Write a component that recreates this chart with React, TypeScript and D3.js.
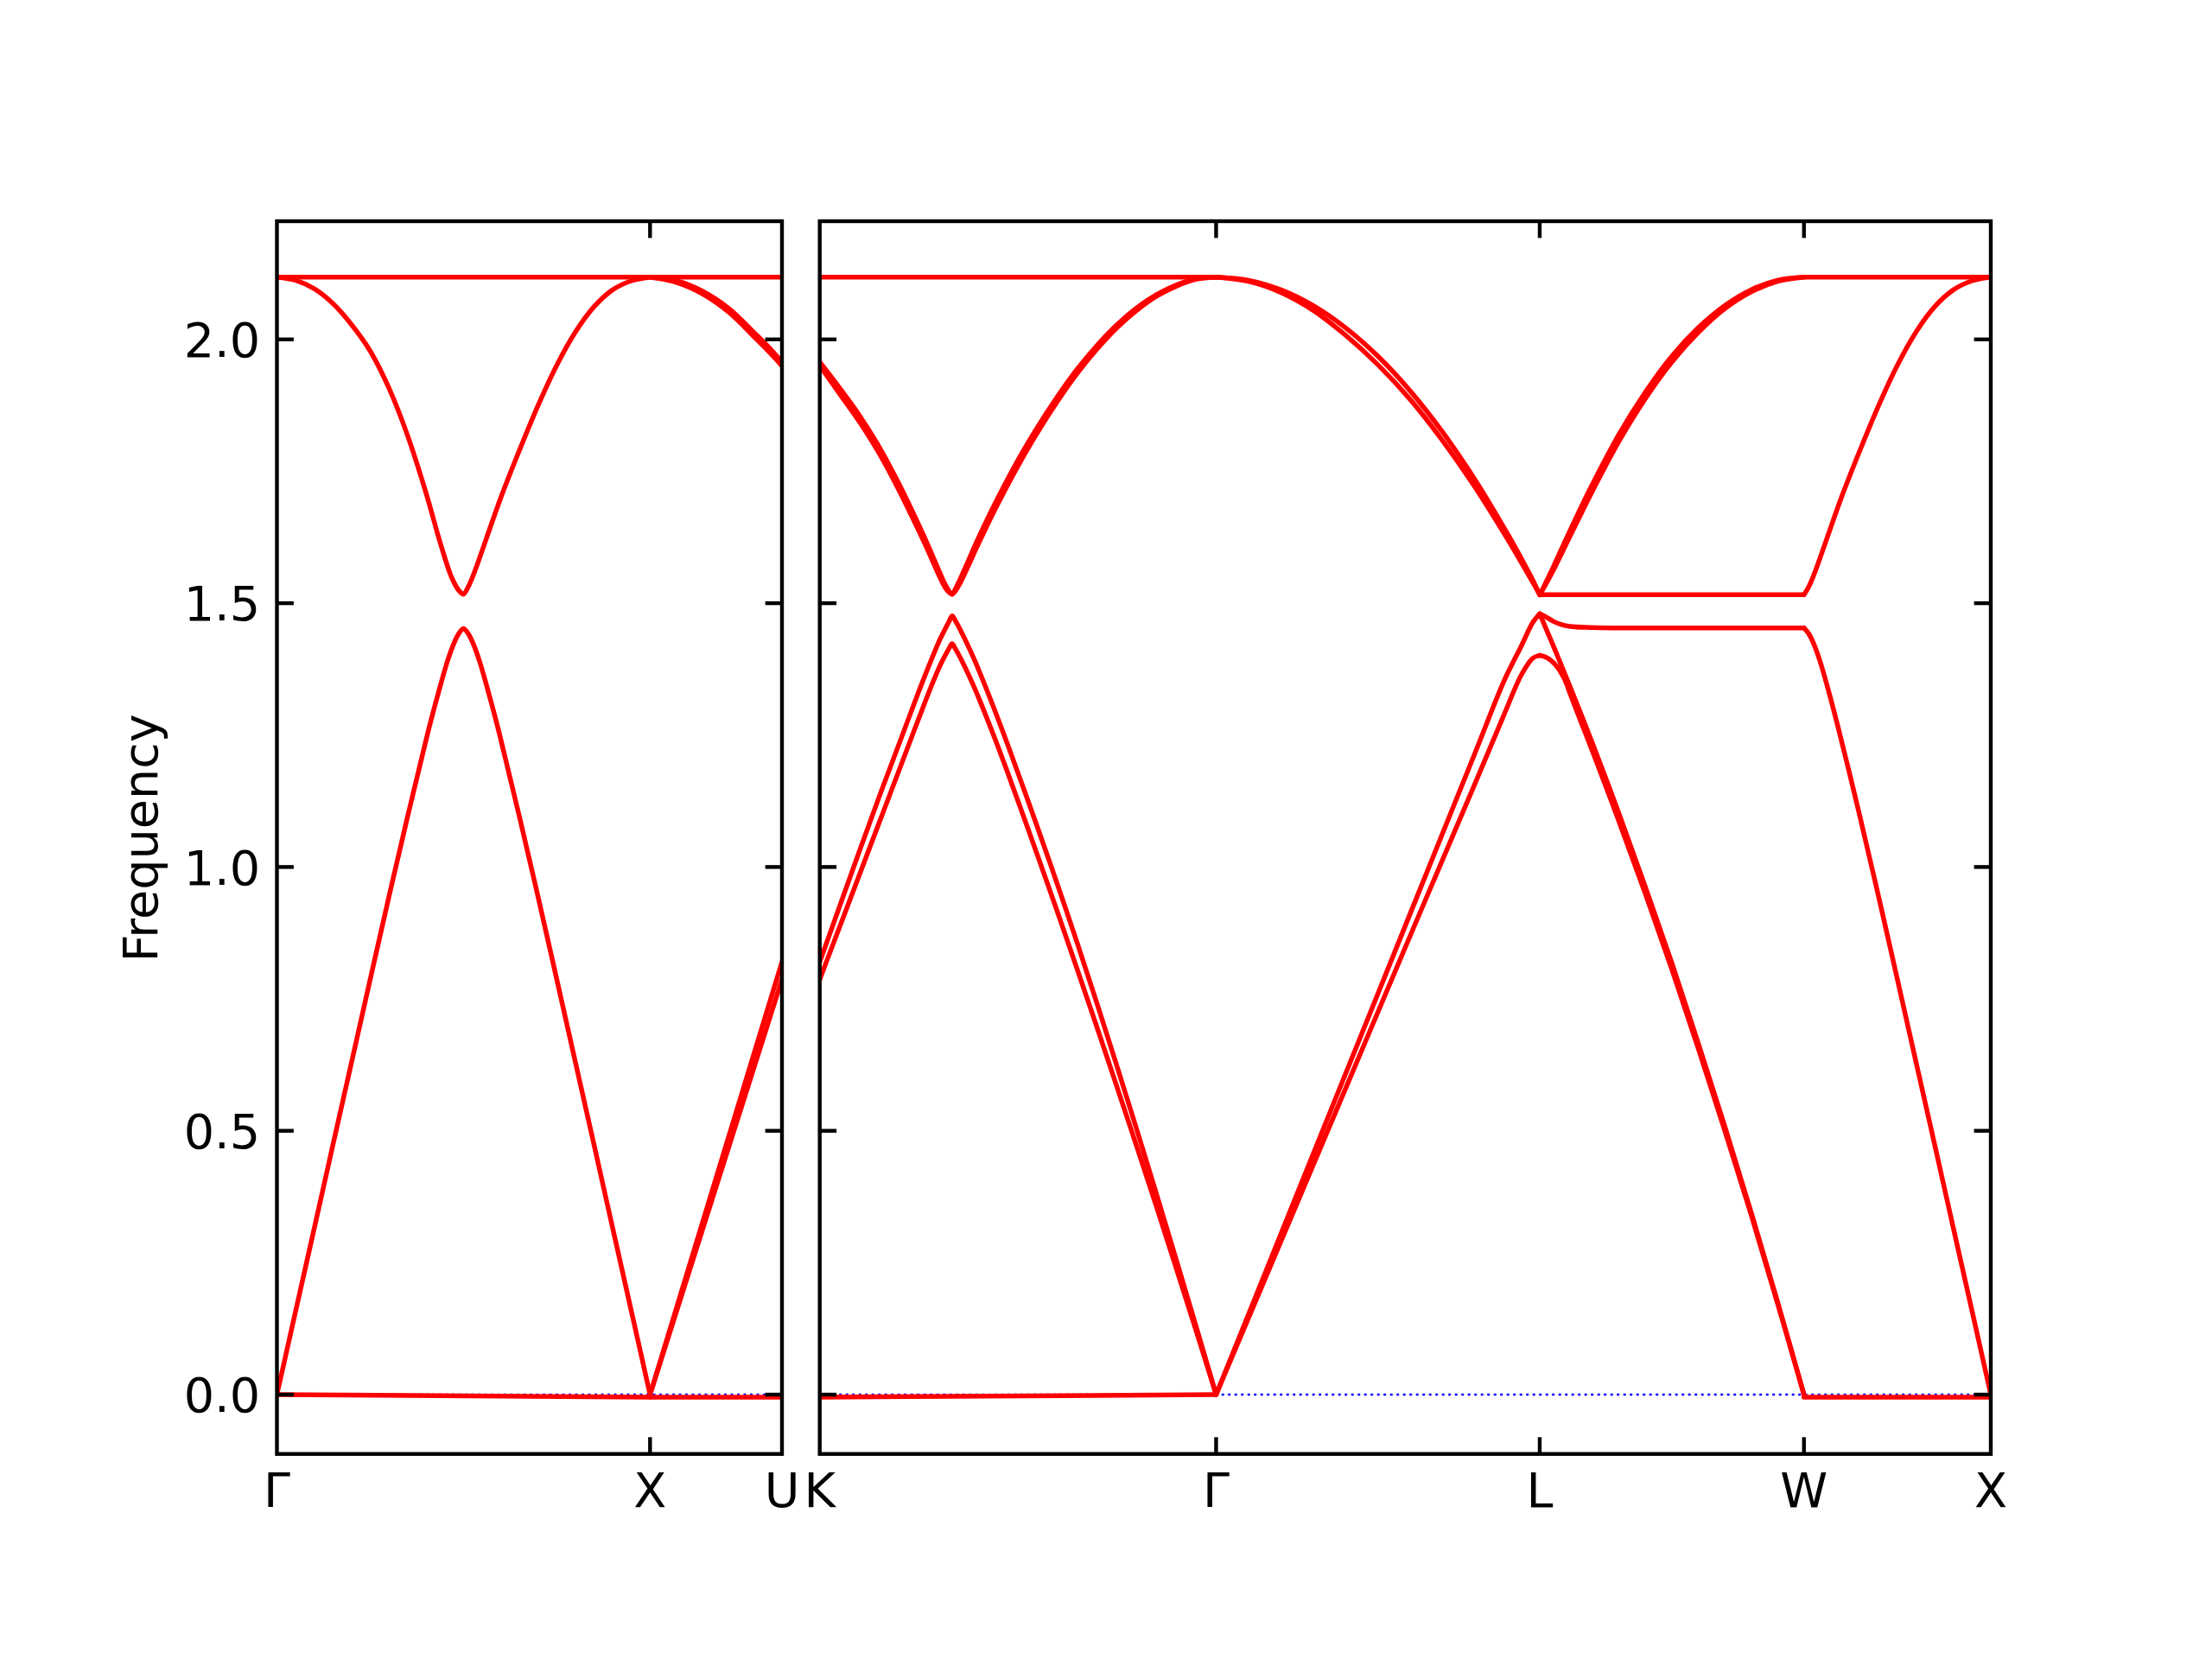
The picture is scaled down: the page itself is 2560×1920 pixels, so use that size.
import React from 'react';
import * as d3 from 'd3';

type Pt = [number, number];

// ---- axis data ----
const yTicks = [0, 0.5, 1.0, 1.5, 2.0];
const yDomain: [number, number] = [-0.1125, 2.224];
const panel1Labels = ['Γ', 'X', 'U'];
const panel1Lengths = [1.0, 0.3536];
const panel2Labels = ['K', 'Γ', 'L', 'W', 'X'];
const panel2Lengths = [1.0607, 0.866, 0.7071, 0.5];

// ---- bands: [fraction along segment, frequency] ----
// Γ–X
const gxTop: Pt[] = [[0, 2.118], [1, 2.118]];
const gxUpper: Pt[] = [[0, 2.118], [0.05, 2.112], [0.1, 2.096], [0.15, 2.068], [0.2, 2.028], [0.25, 1.978], [0.3, 1.908], [0.35, 1.818], [0.4, 1.708], [0.44, 1.609], [0.47, 1.546], [0.49, 1.522], [0.5, 1.517], [0.512, 1.53], [0.53, 1.56], [0.56, 1.62], [0.6, 1.7], [0.65, 1.79], [0.7, 1.875], [0.75, 1.951], [0.8, 2.014], [0.85, 2.062], [0.9, 2.094], [0.95, 2.111], [1, 2.118]];
const gxLower: Pt[] = [[0, 0], [0.05, 0.158], [0.1, 0.315], [0.15, 0.473], [0.2, 0.63], [0.25, 0.787], [0.3, 0.943], [0.35, 1.095], [0.38, 1.183], [0.41, 1.27], [0.435, 1.336], [0.457, 1.39], [0.475, 1.425], [0.488, 1.443], [0.5, 1.452], [0.512, 1.443], [0.525, 1.425], [0.543, 1.39], [0.565, 1.336], [0.59, 1.27], [0.62, 1.183], [0.65, 1.095], [0.7, 0.943], [0.75, 0.787], [0.8, 0.63], [0.85, 0.473], [0.9, 0.315], [0.95, 0.158], [1, 0]];
const gxZero: Pt[] = [[0, 0], [1, -0.005]];
// X–U
const xuTop: Pt[] = [[0, 2.118], [1, 2.118]];
const xuUpper1: Pt[] = [[0, 2.118], [0.2, 2.111], [0.4, 2.091], [0.6, 2.058], [0.8, 2.01], [0.9, 1.985], [1, 1.957]];
const xuUpper2: Pt[] = [[0, 2.118], [0.2, 2.108], [0.4, 2.086], [0.6, 2.051], [0.8, 2.002], [0.9, 1.977], [1, 1.95]];
const xuLower1: Pt[] = [[0, 0], [0.5, 0.41], [1, 0.82]];
const xuLower2: Pt[] = [[0, 0], [0.5, 0.393], [1, 0.787]];
const xuZero: Pt[] = [[0, -0.005], [1, -0.005]];
// K–Γ
const kgTop: Pt[] = [[0, 2.118], [1, 2.118]];
const kgUpper1: Pt[] = [[0, 1.957], [0.05, 1.908], [0.1, 1.856], [0.15, 1.796], [0.2, 1.726], [0.25, 1.648], [0.28, 1.598], [0.3, 1.563], [0.316, 1.536], [0.327, 1.522], [0.334, 1.517], [0.341, 1.522], [0.352, 1.535], [0.367, 1.558], [0.4, 1.612], [0.439, 1.673], [0.5, 1.76], [0.548, 1.822], [0.6, 1.883], [0.65, 1.936], [0.7, 1.982], [0.75, 2.022], [0.8, 2.055], [0.85, 2.082], [0.9, 2.101], [0.95, 2.114], [1, 2.118]];
const kgUpper2: Pt[] = [[0, 1.95], [0.05, 1.897], [0.1, 1.844], [0.15, 1.784], [0.2, 1.714], [0.25, 1.637], [0.28, 1.588], [0.3, 1.554], [0.316, 1.53], [0.327, 1.52], [0.334, 1.517], [0.341, 1.525], [0.352, 1.542], [0.367, 1.567], [0.4, 1.623], [0.439, 1.684], [0.5, 1.771], [0.548, 1.832], [0.6, 1.892], [0.65, 1.944], [0.7, 1.989], [0.75, 2.028], [0.8, 2.06], [0.85, 2.085], [0.9, 2.103], [0.95, 2.115], [1, 2.118]];
const kgLower1: Pt[] = [[0, 0.82], [0.05, 0.925], [0.1, 1.03], [0.15, 1.133], [0.2, 1.233], [0.25, 1.333], [0.28, 1.39], [0.3, 1.426], [0.315, 1.449], [0.326, 1.465], [0.334, 1.476], [0.342, 1.467], [0.355, 1.449], [0.38, 1.41], [0.403, 1.37], [0.44, 1.3], [0.476, 1.228], [0.548, 1.078], [0.6, 0.966], [0.65, 0.855], [0.7, 0.74], [0.75, 0.622], [0.8, 0.502], [0.85, 0.379], [0.9, 0.254], [0.95, 0.128], [1, 0]];
const kgLower2: Pt[] = [[0, 0.787], [0.05, 0.886], [0.1, 0.985], [0.15, 1.084], [0.2, 1.183], [0.25, 1.282], [0.28, 1.34], [0.3, 1.376], [0.315, 1.399], [0.326, 1.414], [0.334, 1.423], [0.342, 1.414], [0.355, 1.396], [0.38, 1.357], [0.403, 1.317], [0.44, 1.247], [0.476, 1.175], [0.548, 1.025], [0.6, 0.914], [0.65, 0.805], [0.7, 0.695], [0.75, 0.583], [0.8, 0.47], [0.85, 0.355], [0.9, 0.238], [0.95, 0.12], [1, 0]];
const kgZero: Pt[] = [[0, -0.005], [1, 0]];
// Γ–L
const glUpper1: Pt[] = [[0, 2.118], [0.1, 2.112], [0.2, 2.094], [0.3, 2.064], [0.4, 2.022], [0.5, 1.968], [0.6, 1.902], [0.7, 1.824], [0.8, 1.734], [0.9, 1.632], [0.95, 1.577], [0.98, 1.542], [1, 1.516]];
const glUpper2: Pt[] = [[0, 2.118], [0.1, 2.11], [0.2, 2.089], [0.3, 2.055], [0.4, 2.008], [0.5, 1.952], [0.6, 1.886], [0.7, 1.808], [0.8, 1.72], [0.9, 1.622], [0.95, 1.57], [0.98, 1.538], [1, 1.516]];
const glLower1: Pt[] = [[0, 0], [0.2, 0.304], [0.4, 0.608], [0.6, 0.912], [0.8, 1.216], [0.89, 1.353], [0.944, 1.42], [0.979, 1.464], [1, 1.48]];
const glLower2: Pt[] = [[0, 0], [0.2, 0.29], [0.4, 0.58], [0.6, 0.87], [0.8, 1.158], [0.89, 1.289], [0.944, 1.365], [0.979, 1.396], [1, 1.401]];
// L–W
const lwUpper1: Pt[] = [[0, 1.516], [0.02, 1.536], [0.05, 1.567], [0.1, 1.622], [0.15, 1.675], [0.2, 1.726], [0.3, 1.82], [0.4, 1.9], [0.5, 1.968], [0.6, 2.022], [0.7, 2.064], [0.8, 2.094], [0.9, 2.112], [1, 2.118]];
const lwUpper2: Pt[] = [[0, 1.516], [0.02, 1.533], [0.05, 1.561], [0.1, 1.612], [0.15, 1.663], [0.2, 1.713], [0.3, 1.807], [0.4, 1.888], [0.5, 1.957], [0.6, 2.013], [0.7, 2.058], [0.8, 2.09], [0.9, 2.11], [1, 2.118]];
const lwFlatHigh: Pt[] = [[0, 1.516], [1, 1.516]];
const lwFlatLow: Pt[] = [[0, 1.48], [0.02, 1.475], [0.05, 1.466], [0.08, 1.46], [0.115, 1.456], [0.19, 1.454], [0.5, 1.453], [1, 1.453]];
const lwLower1: Pt[] = [[0, 1.48], [0.01, 1.468], [0.05, 1.421], [0.1, 1.36], [0.16, 1.285], [0.2, 1.234], [0.3, 1.101], [0.4, 0.962], [0.5, 0.818], [0.6, 0.666], [0.7, 0.509], [0.8, 0.346], [0.9, 0.176], [1, 0]];
const lwLower2: Pt[] = [[0, 1.401], [0.03, 1.396], [0.06, 1.383], [0.09, 1.36], [0.12, 1.322], [0.16, 1.27], [0.2, 1.219], [0.3, 1.086], [0.4, 0.949], [0.5, 0.806], [0.6, 0.656], [0.7, 0.501], [0.8, 0.341], [0.9, 0.173], [1, 0]];
// W–X
const wxTop: Pt[] = [[0, 2.118], [1, 2.118]];
const wxUpper: Pt[] = [[0, 1.516], [0.024, 1.53], [0.06, 1.56], [0.12, 1.62], [0.2, 1.7], [0.3, 1.79], [0.4, 1.875], [0.5, 1.951], [0.6, 2.014], [0.7, 2.062], [0.8, 2.094], [0.9, 2.111], [1, 2.118]];
const wxLower: Pt[] = [[0, 1.453], [0.024, 1.443], [0.05, 1.425], [0.086, 1.39], [0.13, 1.336], [0.179, 1.27], [0.24, 1.183], [0.3, 1.095], [0.4, 0.943], [0.5, 0.787], [0.6, 0.63], [0.7, 0.473], [0.8, 0.315], [0.9, 0.158], [1, 0]];
const wxZero: Pt[] = [[0, -0.005], [1, -0.005]];

const panel1Bands: Pt[][][] = [
  [gxTop, gxUpper, gxLower, gxZero],
  [xuTop, xuUpper1, xuUpper2, xuLower1, xuLower2, xuZero],
];
const panel2Bands: Pt[][][] = [
  [kgTop, kgUpper1, kgUpper2, kgLower1, kgLower2, kgZero],
  [glUpper1, glUpper2, glLower1, glLower2],
  [lwUpper1, lwUpper2, lwFlatHigh, lwFlatLow, lwLower1, lwLower2],
  [wxTop, wxUpper, wxLower, wxZero],
];

// ---- layout ----
const W = 2560;
const H = 1920;
const TOP = 256;
const BOTTOM = 1682.7;
const TICK = 19.4;
const FONT = "'DejaVu Sans', sans-serif";
const FS = 55.6;

interface PanelProps {
  id: string;
  left: number;
  right: number;
  labels: string[];
  lengths: number[];
  bands: Pt[][][];
  yLabels: boolean;
}

function Panel({ id, left, right, labels, lengths, bands, yLabels }: PanelProps) {
  const bounds = [0, ...Array.from(d3.cumsum(lengths))];
  const total = bounds[bounds.length - 1];
  const x = d3.scaleLinear().domain([0, total]).range([left, right]);
  const y = d3.scaleLinear().domain(yDomain).range([BOTTOM, TOP]);
  const paths: string[] = [];
  bands.forEach((segBands, i) => {
    const s = bounds[i];
    const L = lengths[i];
    const line = d3
      .line<Pt>()
      .x((d) => x(s + d[0] * L))
      .y((d) => y(d[1]))
      .curve(d3.curveCatmullRom.alpha(0.5));
    segBands.forEach((b) => paths.push(line(b) || ''));
  });
  const inner = bounds.slice(1, -1);
  return (
    <g>
      <defs>
        <clipPath id={id}>
          <rect x={left} y={TOP} width={right - left} height={BOTTOM - TOP} />
        </clipPath>
      </defs>
      <g clipPath={`url(#${id})`}>
        <line x1={left} x2={right} y1={y(0)} y2={y(0)} stroke="#0000ff" strokeWidth={2.4} strokeDasharray="3 4.5" />
        {paths.map((p, i) => (
          <path key={i} d={p} fill="none" stroke="#ff0000" strokeWidth={5.5} strokeLinejoin="round" strokeLinecap="round" />
        ))}
      </g>
      {yTicks.map((t) => (
        <g key={'yt' + t}>
          <line x1={left} x2={left + TICK} y1={y(t)} y2={y(t)} stroke="#000" strokeWidth={4.4} />
          <line x1={right} x2={right - TICK} y1={y(t)} y2={y(t)} stroke="#000" strokeWidth={4.4} />
          {yLabels && (
            <text x={left - 19.4} y={y(t) + 20.3} textAnchor="end" fontFamily={FONT} fontSize={FS} fill="#000">
              {t.toFixed(1)}
            </text>
          )}
        </g>
      ))}
      {inner.map((b, i) => (
        <g key={'xt' + i}>
          <line x1={x(b)} x2={x(b)} y1={TOP} y2={TOP + TICK} stroke="#000" strokeWidth={4.4} />
          <line x1={x(b)} x2={x(b)} y1={BOTTOM} y2={BOTTOM - TICK} stroke="#000" strokeWidth={4.4} />
        </g>
      ))}
      {bounds.map((b, i) => (
        <text key={'xl' + i} x={x(b)} y={1744} textAnchor="middle" fontFamily={FONT} fontSize={FS} fill="#000">
          {labels[i]}
        </text>
      ))}
      <rect x={left} y={TOP} width={right - left} height={BOTTOM - TOP} fill="none" stroke="#000" strokeWidth={4.4} />
    </g>
  );
}

export default function App() {
  return (
    <svg width={W} height={H} viewBox={`0 0 ${W} ${H}`} style={{ position: 'absolute', left: 0, top: 0, display: 'block', background: '#fff' }}>
      <rect x={0} y={0} width={W} height={H} fill="#fff" />
      <Panel id="clip1" left={320.5} right={905} labels={panel1Labels} lengths={panel1Lengths} bands={panel1Bands} yLabels={true} />
      <Panel id="clip2" left={948.7} right={2304} labels={panel2Labels} lengths={panel2Lengths} bands={panel2Bands} yLabels={false} />
      <text transform="translate(181.7,970) rotate(-90)" textAnchor="middle" fontFamily={FONT} fontSize={FS} fill="#000">
        Frequency
      </text>
    </svg>
  );
}
